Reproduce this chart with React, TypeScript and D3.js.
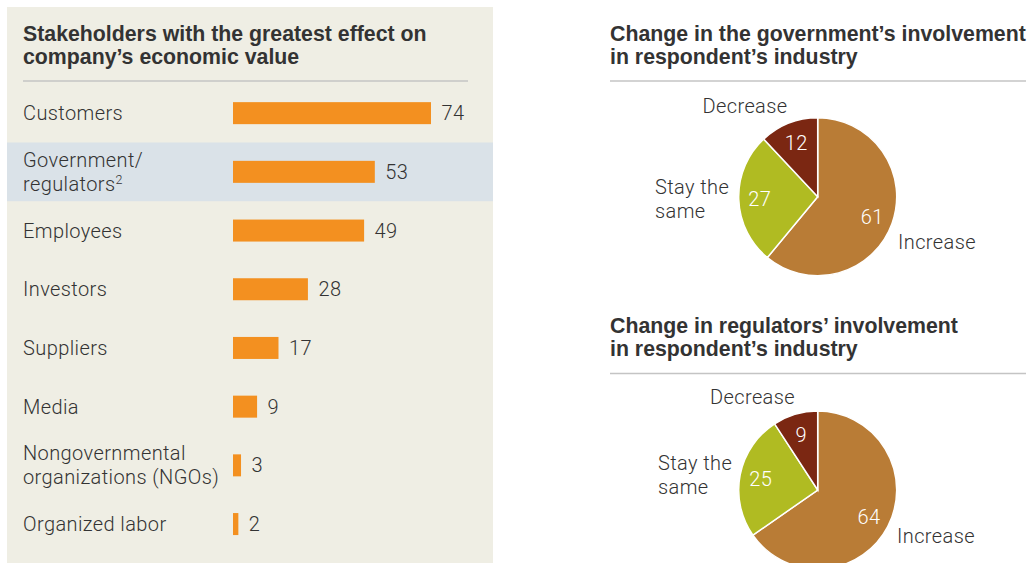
import React from "react";
import * as d3 from "d3";

const stakeholders = [
  "Customers",
  "Government/\nregulators",
  "Employees",
  "Investors",
  "Suppliers",
  "Media",
  "Nongovernmental\norganizations (NGOs)",
  "Organized labor",
];
const stakeholderValues = [74, 53, 49, 28, 17, 9, 3, 2];
const highlighted = "Government/\nregulators";

const changeCategories = ["Increase", "Stay the same", "Decrease"];
const governmentChange = [61, 27, 12];
const regulatorsChange = [64, 25, 9];

const W = 1032;
const H = 563;
const TEXT = "#333333";
const BAR = "#f39020";
const PANEL = "#efeee4";
const HILITE = "#dae2e8";
const RULE = "#c4c4c4";
const pieColors = d3
  .scaleOrdinal<string, string>()
  .domain(changeCategories)
  .range(["#b97c36", "#b0bb22", "#7b2712"]);

const TITLE_FONT = "'Liberation Sans', Arial, sans-serif";
const BODY_FONT = "Roboto, 'Liberation Sans', sans-serif";
const TITLE_SIZE = 21.3;
const BODY_SIZE = 20;
const BODY_LS = 0.4;

function PieBlock({
  title,
  values,
  cx,
  cy,
  titleY,
}: {
  title: string[];
  values: number[];
  cx: number;
  cy: number;
  titleY: number;
}) {
  const r = 79;
  const data = changeCategories.map((c, i) => ({ c, v: values[i] }));
  const pie = d3
    .pie<{ c: string; v: number }>()
    .value((d) => d.v)
    .sort(null);
  const arcs = pie(data);
  const arc = d3
    .arc<d3.PieArcDatum<{ c: string; v: number }>>()
    .innerRadius(0)
    .outerRadius(r);
  const labelArc = d3
    .arc<d3.PieArcDatum<{ c: string; v: number }>>()
    .innerRadius(58)
    .outerRadius(58);
  return (
    <g>
      {title.map((t, i) => (
        <text
          key={i}
          x={610}
          y={titleY + i * 23.3}
          fontFamily={TITLE_FONT}
          fontWeight={700}
          fontSize={TITLE_SIZE}
          fill={TEXT}
        >
          {t}
        </text>
      ))}
      <line
        x1={610}
        x2={1026}
        y1={titleY + 40.5}
        y2={titleY + 40.5}
        stroke={RULE}
        strokeWidth={1.5}
      />
      <g transform={`translate(${cx},${cy})`}>
        {arcs.map((a) => (
          <path
            key={a.data.c}
            d={arc(a) || ""}
            fill={pieColors(a.data.c)}
            stroke="#ffffff"
            strokeWidth={1.5}
          />
        ))}
        {arcs.map((a) => {
          const [lx, ly] = labelArc.centroid(a);
          return (
            <text
              key={"v" + a.data.c}
              x={lx}
              y={ly}
              dy="0.36em"
              textAnchor="middle"
              fontFamily={BODY_FONT}
              fontWeight={300}
              fontSize={BODY_SIZE}
              letterSpacing={BODY_LS}
              fill="#ffffff"
            >
              {a.data.v}
            </text>
          );
        })}
      </g>
    </g>
  );
}

export default function App() {
  const x = d3.scaleLinear().domain([0, 74]).range([0, 198]);
  const y = d3
    .scaleBand<string>()
    .domain(stakeholders)
    .range([83.8, 83.8 + 58.7 * stakeholders.length])
    .paddingInner(0)
    .paddingOuter(0);
  const barH = 22;
  const barX = 233;

  return (
    <svg
      width={W}
      height={H}
      style={{ position: "absolute", left: 0, top: 0, background: "#ffffff" }}
    >
      <rect x={0} y={0} width={W} height={H} fill="#ffffff" />
      {/* Left panel */}
      <rect x={7} y={7} width={486} height={H - 7} fill={PANEL} />
      <rect
        x={7}
        y={y(highlighted)!}
        width={486}
        height={y.bandwidth()}
        fill={HILITE}
      />
      {["Stakeholders with the greatest effect on", "company\u2019s economic value"].map(
        (t, i) => (
          <text
            key={i}
            x={23}
            y={40.5 + i * 23.3}
            fontFamily={TITLE_FONT}
            fontWeight={700}
            fontSize={TITLE_SIZE}
            fill={TEXT}
          >
            {t}
          </text>
        )
      )}
      <line x1={23} x2={468} y1={81} y2={81} stroke={RULE} strokeWidth={1.5} />
      {stakeholders.map((s, i) => {
        const cy = y(s)! + y.bandwidth() / 2;
        const lines = s.split("\n");
        const v = stakeholderValues[i];
        return (
          <g key={s}>
            {lines.map((ln, j) => (
              <text
                key={j}
                x={23}
                y={cy + 7 + (j - (lines.length - 1) / 2) * 24}
                fontFamily={BODY_FONT}
                fontWeight={300}
                fontSize={BODY_SIZE}
                letterSpacing={BODY_LS}
                fill={TEXT}
              >
                {ln}
                {s === highlighted && j === lines.length - 1 ? (
                  <tspan fontSize={12.5} dy={-7}>
                    2
                  </tspan>
                ) : null}
              </text>
            ))}
            <rect
              x={barX}
              y={cy - barH / 2}
              width={x(v)}
              height={barH}
              fill={BAR}
            />
            <text
              x={barX + x(v) + 10.5}
              y={cy + 7}
              fontFamily={BODY_FONT}
              fontWeight={300}
              fontSize={BODY_SIZE}
              letterSpacing={BODY_LS}
              fill={TEXT}
            >
              {v}
            </text>
          </g>
        );
      })}

      {/* Right pies */}
      <PieBlock
        title={["Change in the government\u2019s involvement", "in respondent\u2019s industry"]}
        values={governmentChange}
        cx={817.7}
        cy={196.7}
        titleY={40.5}
      />
      <PieBlock
        title={["Change in regulators\u2019 involvement", "in respondent\u2019s industry"]}
        values={regulatorsChange}
        cx={817.7}
        cy={490}
        titleY={333}
      />

      {/* outer category labels */}
      {[
        { dec: [745, 113], stay: [655, 194.3], inc: [898, 249.3] },
        { dec: [752.5, 404], stay: [658, 470], inc: [897, 542.7] },
      ].map((p, k) => (
        <g
          key={k}
          fontFamily={BODY_FONT}
          fontWeight={300}
          fontSize={BODY_SIZE}
          letterSpacing={BODY_LS}
          fill={TEXT}
        >
          <text x={p.dec[0]} y={p.dec[1]} textAnchor="middle">
            {changeCategories[2]}
          </text>
          <text x={p.stay[0]} y={p.stay[1]}>
            Stay the
          </text>
          <text x={p.stay[0]} y={p.stay[1] + 24}>
            same
          </text>
          <text x={p.inc[0]} y={p.inc[1]}>
            {changeCategories[0]}
          </text>
        </g>
      ))}
    </svg>
  );
}
